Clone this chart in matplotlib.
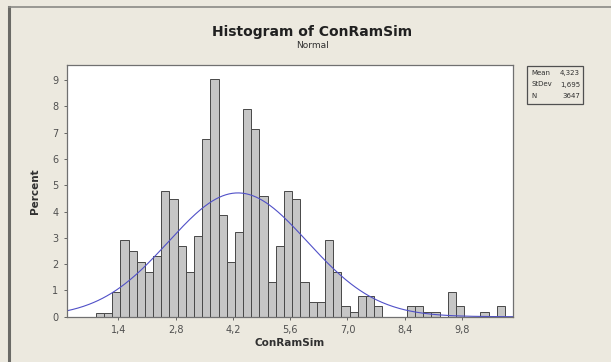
import numpy as np
import matplotlib.pyplot as plt
from matplotlib.lines import Line2D
from matplotlib.patches import Rectangle

# Histogram data (percent per bin), bins of width 0.2 starting at 0.85
bin_start = 0.85
bin_width = 0.2
percent = [0.16, 0.16, 0.95, 2.9, 2.5, 2.08, 1.71, 2.3, 4.77, 4.46,
           2.7, 1.71, 3.08, 6.75, 9.03, 3.85, 2.09, 3.23, 7.89, 7.13,
           4.6, 1.33, 2.7, 4.77, 4.46, 1.33, 0.56, 0.56, 2.91, 1.71,
           0.4, 0.19, 0.78, 0.78, 0.4, 0.0, 0.0, 0.0, 0.4, 0.4,
           0.19, 0.19, 0.0, 0.95, 0.4, 0.0, 0.0, 0.17, 0.0, 0.4]

# Fitted normal from the summary box
mean = 4.323
stdev = 1.695
n = 3647

xticks = [1.4, 2.8, 4.2, 5.6, 7.0, 8.4, 9.8]
xtick_labels = ["1,4", "2,8", "4,2", "5,6", "7,0", "8,4", "9,8"]

bg = '#ECE9DF'
fig = plt.figure(figsize=(6.11, 3.62), dpi=100, facecolor=bg)
ax = fig.add_axes([0.1092, 0.1251, 0.7308, 0.6953])

edges = bin_start + bin_width * np.arange(len(percent))
ax.bar(edges, percent, width=bin_width, align='edge',
       color='#C6C6C6', edgecolor='#484848', linewidth=0.7)

# normal curve scaled to percent per bin
xs = np.linspace(0.14, 11.05, 400)
ys = 100 * bin_width * np.exp(-0.5 * ((xs - mean) / stdev) ** 2) / (stdev * np.sqrt(2 * np.pi))
ax.plot(xs, ys, color='#5050C8', linewidth=0.8)

ax.set_xlim(0.14, 11.05)
ax.set_ylim(0, 9.57)
ax.set_xticks(xticks)
ax.set_xticklabels(xtick_labels)
ax.set_yticks(range(10))
ax.tick_params(labelsize=7, colors='#505050', length=2.5, width=0.6)
for s in ax.spines.values():
    s.set_color('#707070')
    s.set_linewidth(0.9)

ax.set_xlabel("ConRamSim", fontsize=7.5, fontweight='bold', color='#303030', labelpad=2)
ax.set_ylabel("Percent", fontsize=7.5, fontweight='bold', color='#303030', labelpad=9)

fig.text(0.511, 0.912, "Histogram of ConRamSim", ha='center', va='center',
         fontsize=10, fontweight='bold', color='#202020')
fig.text(0.511, 0.873, "Normal", ha='center', va='center', fontsize=6.5, color='#303030')

# summary box
box = Rectangle((527 / 611, 1 - 104 / 362), 56 / 611, 38 / 362, transform=fig.transFigure,
                facecolor=bg, edgecolor='#505050', linewidth=0.9)
fig.patches.append(box)
rows = [("Mean", "4,323"), ("StDev", "1,695"), ("N", str(n))]
for i, (k, v) in enumerate(rows):
    y = 1 - (73 + i * 11.5) / 362
    fig.text(531 / 611, y, k, fontsize=5, va='center', ha='left', color='#303030')
    fig.text(580 / 611, y, v, fontsize=5, va='center', ha='right', color='#303030')

# window frame lines
fig.add_artist(Line2D([9 / 611, 9 / 611], [0, 1 - 7 / 362], transform=fig.transFigure,
                      color='#6A6A66', linewidth=2.2))
fig.add_artist(Line2D([9 / 611, 1], [1 - 7 / 362, 1 - 7 / 362], transform=fig.transFigure,
                      color='#8A8A86', linewidth=1.2))

plt.savefig('out.png', dpi=100, facecolor=bg)
